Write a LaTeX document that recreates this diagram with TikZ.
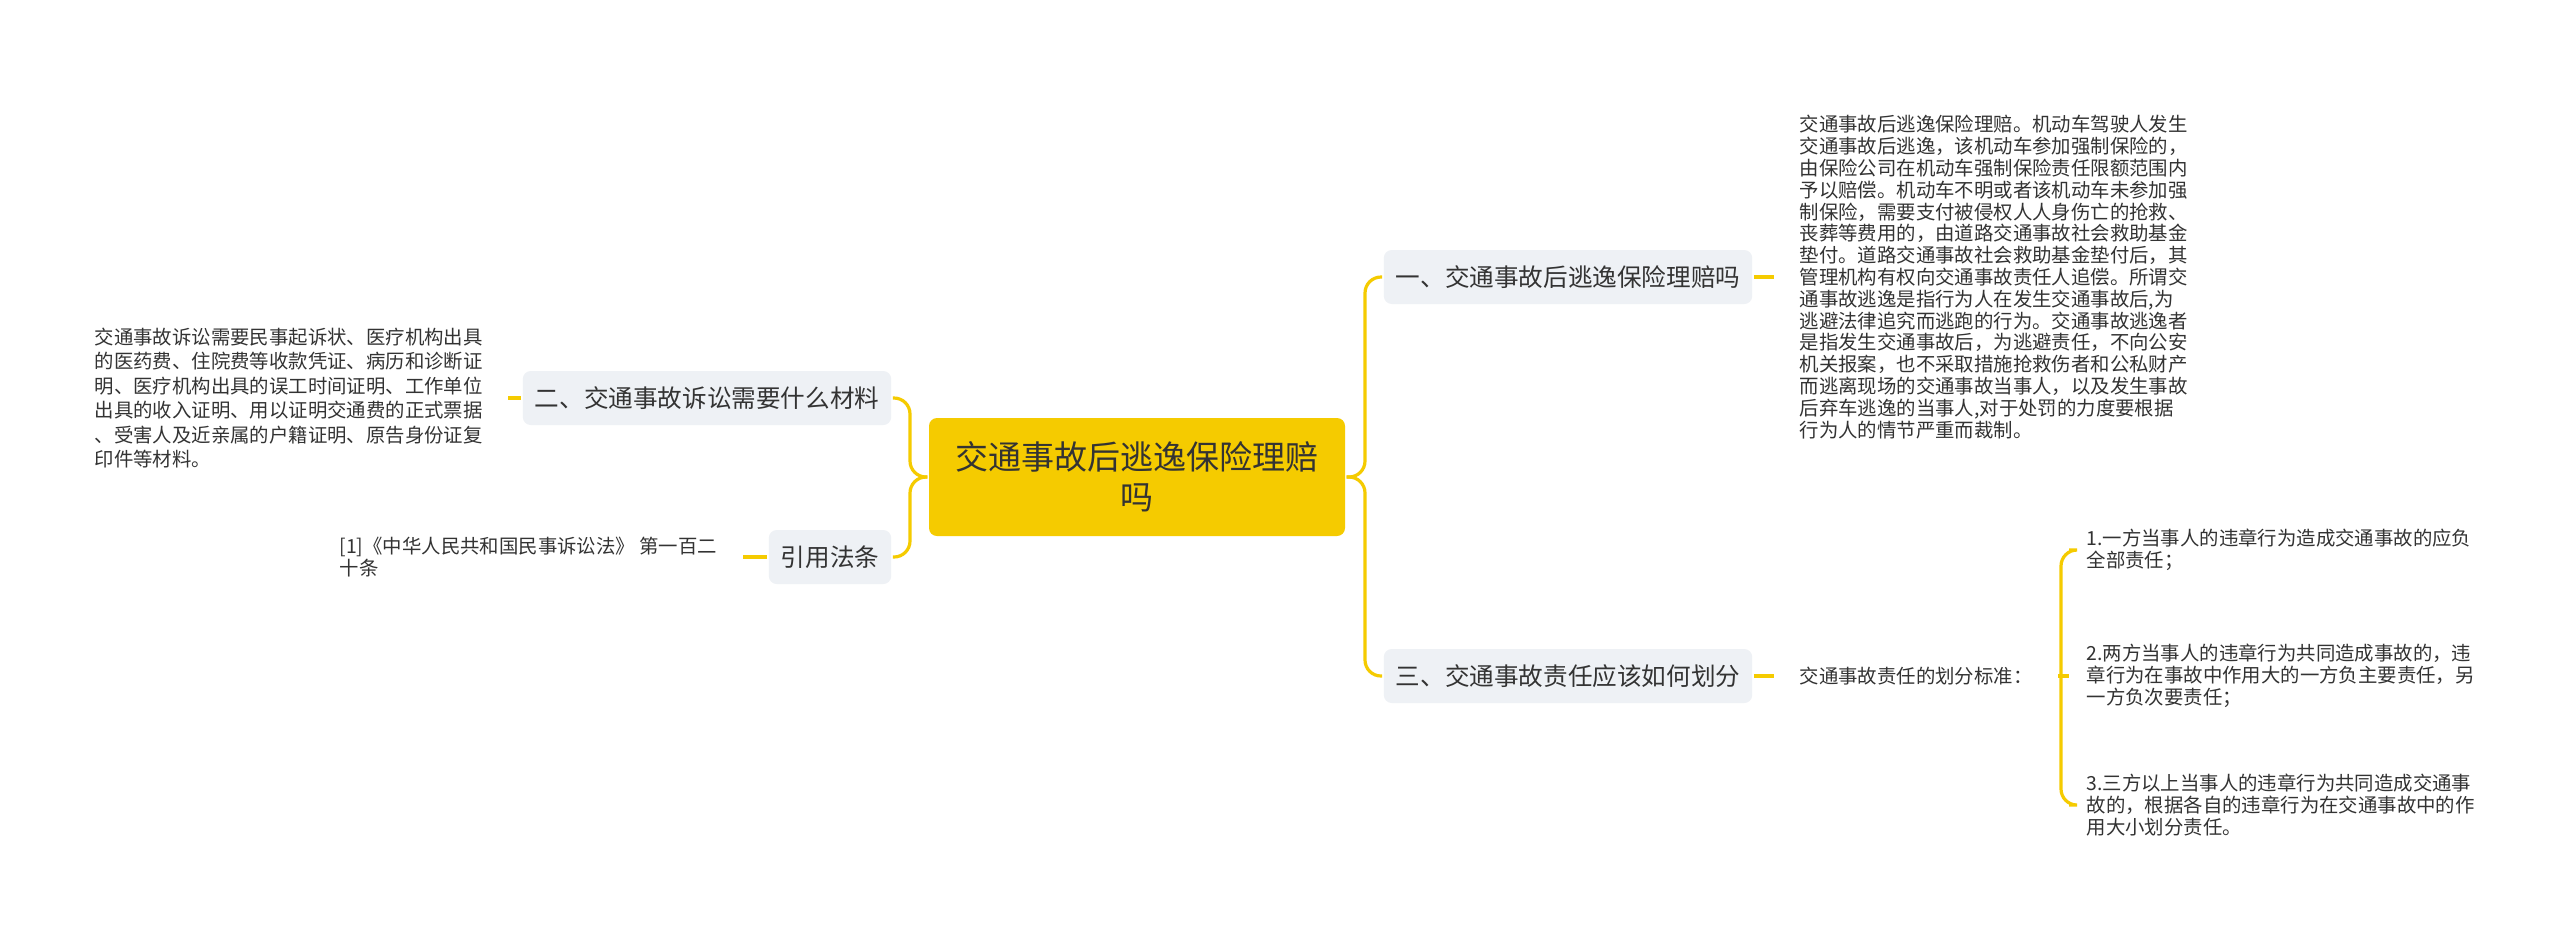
\documentclass[tikz,border=0pt]{standalone}
\usepackage{fontspec}
\setmainfont{Noto Sans CJK SC}
\usetikzlibrary{positioning}

\definecolor{mapyellow}{HTML}{F5CB00}
\definecolor{topicgray}{HTML}{EEF1F5}
\definecolor{textgray}{HTML}{333333}

\begin{document}
\begin{tikzpicture}[x=0.5pt,y=-0.5pt,
    line width=1.6pt,
    link/.style={draw=mapyellow,rounded corners=8pt},
    root node/.style={fill=mapyellow,rounded corners=4pt,minimum width=208pt,minimum height=59pt,
                      align=center,font=\fontsize{16.5}{20}\selectfont,text=textgray},
    topic node/.style={fill=topicgray,rounded corners=4pt,minimum height=27pt,inner xsep=6pt,
                       font=\fontsize{12.3}{15}\selectfont,text=textgray},
    leaf text/.style={align=left,font=\fontsize{9.7}{10.9}\selectfont,text=textgray,inner sep=0pt}]

      \useasboundingbox[fill=white] (0,0) rectangle (2560,934);

      \node[root node] (root) at (1137,477) {交通事故后逃逸保险理赔\\吗};
      \node[topic node] (t1) at (1568,277) {一、交通事故后逃逸保险理赔吗};
      \node[topic node] (t3) at (1568,676) {三、交通事故责任应该如何划分};
      \node[topic node] (t2) at (707,398) {二、交通事故诉讼需要什么材料};
      \node[topic node] (t4) at (830,557) {引用法条};

      % leaves
      \node[leaf text,anchor=west] (d1) at (1798,277) {交通事故后逃逸保险理赔。机动车驾驶人发生\\交通事故后逃逸，该机动车参加强制保险的，\\由保险公司在机动车强制保险责任限额范围内\\予以赔偿。机动车不明或者该机动车未参加强\\制保险，需要支付被侵权人人身伤亡的抢救、\\丧葬等费用的，由道路交通事故社会救助基金\\垫付。道路交通事故社会救助基金垫付后，其\\管理机构有权向交通事故责任人追偿。所谓交\\通事故逃逸是指行为人在发生交通事故后,为\\逃避法律追究而逃跑的行为。交通事故逃逸者\\是指发生交通事故后，为逃避责任，不向公安\\机关报案，也不采取措施抢救伤者和公私财产\\而逃离现场的交通事故当事人，以及发生事故\\后弃车逃逸的当事人,对于处罚的力度要根据\\行为人的情节严重而裁制。};
      \node[leaf text,anchor=west,font=\fontsize{9.7}{12.25}\selectfont] (d2) at (93,398) {交通事故诉讼需要民事起诉状、医疗机构出具\\的医药费、住院费等收款凭证、病历和诊断证\\明、医疗机构出具的误工时间证明、工作单位\\出具的收入证明、用以证明交通费的正式票据\\、受害人及近亲属的户籍证明、原告身份证复\\印件等材料。};
      \node[leaf text,anchor=west] (d4) at (338,557) {[1]《中华人民共和国民事诉讼法》 第一百二\\十条};
      \node[leaf text,anchor=west] (s3) at (1798,676) {交通事故责任的划分标准：};
      \node[leaf text,anchor=west] (p1) at (2085,550) {1.一方当事人的违章行为造成交通事故的应负\\全部责任；};
      \node[leaf text,anchor=west] (p2) at (2085,676) {2.两方当事人的违章行为共同造成事故的，违\\章行为在事故中作用大的一方负主要责任，另\\一方负次要责任；};
      \node[leaf text,anchor=west] (p3) at (2085,805) {3.三方以上当事人的违章行为共同造成交通事\\故的，根据各自的违章行为在交通事故中的作\\用大小划分责任。};

      \coordinate (rj) at (1365,477);
      \coordinate (lj) at (910,477);
      \coordinate (sj) at (2061,676);

      \path[link] (root.east) -- (rj) |- (t1.west);
      \path[link] (root.east) -- (rj) |- (t3.west);
      \path[link] (root.west) -- (lj) |- (t2.east);
      \path[link] (root.west) -- (lj) |- (t4.east);
      \path[link] (t1.east) -- ([xshift=-12]d1.west);
      \path[link] (t3.east) -- ([xshift=-12]s3.west);
      \path[link] (t2.west) -- ([xshift=12]d2.east);
      \path[link] (t4.west) -- ([xshift=12]d4.east);
      \path[link] ([xshift=12]s3.east) -- (sj);
      \path[link] (sj) |- ([xshift=-8]p1.west);
      \path[link] (sj) -- ([xshift=-8]p2.west);
      \path[link] (sj) |- ([xshift=-8]p3.west);
\end{tikzpicture}
\end{document}
